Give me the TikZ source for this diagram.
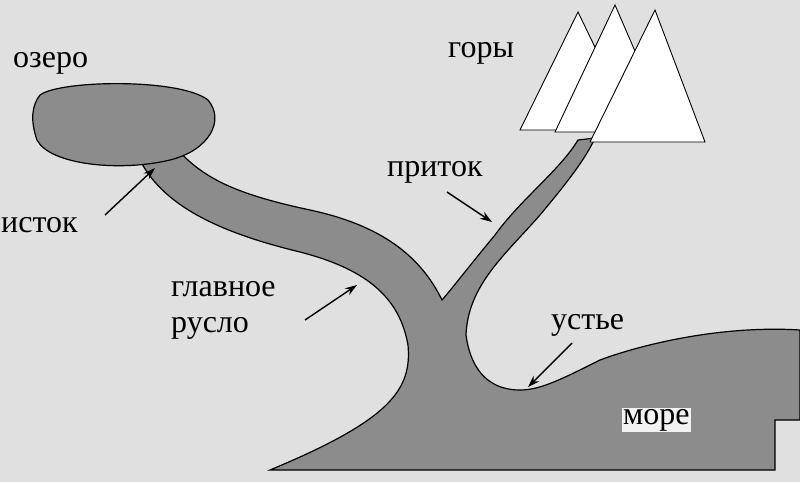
\documentclass[tikz,border=0pt]{standalone}
\usepackage{fontspec}
\setmainfont{Liberation Serif}
\usetikzlibrary{arrows.meta}
\begin{document}
\begin{tikzpicture}[x=1pt,y=-1pt,
 lab/.style={font=\fontsize{32}{36}\selectfont,inner sep=1pt},
 water/.style={fill=black!45,draw=black,line width=1.2pt},
 arr/.style={-{Stealth[length=12pt,width=8pt]},line width=1.4pt}]
\useasboundingbox (0,0) rectangle (800,482);
\fill[black!12] (0,0) rectangle (800,482);
% river and sea
\draw[water] (140,160)
  .. controls (165,210) and (230,235) .. (300,252)
  .. controls (370,270) and (400,300) .. (408,345)
  .. controls (412,390) and (390,420) .. (270,470)
  -- (775,470) -- (775,420) -- (800,420) -- (800,330)
  .. controls (720,325) and (640,345) .. (600,360)
  .. controls (560,380) and (540,390) .. (520,390)
  .. controls (485,390) and (470,365) .. (466,335)
  .. controls (468,285) and (505,255) .. (540,215)
  .. controls (565,185) and (585,160) .. (595,138)
  -- (578,140)
  .. controls (560,170) and (520,200) .. (495,235)
  .. controls (470,265) and (455,285) .. (442,300)
  .. controls (420,255) and (380,225) .. (310,210)
  .. controls (240,195) and (205,180) .. (178,150) -- cycle;
% lake
\draw[water] (40,95) .. controls (60,80) and (180,78) .. (208,100) .. controls (225,120) and (210,150) .. (170,160) .. controls (120,172) and (50,165) .. (37,140) .. controls (30,120) and (32,105) .. (40,95) -- cycle;
% mountains
\tikzset{mnt/.style={fill=white,draw=black,line width=0.9pt}}
\draw[mnt] (520,130) -- (578,12) -- (635,130) -- cycle;
\draw[mnt] (555,132) -- (615,5) -- (670,132) -- cycle;
\draw[mnt] (590,142) -- (655,10) -- (705,142) -- cycle;
% labels
\node[lab,anchor=west] (oz) at (12,63) {озеро};
\node[lab,anchor=west] (go) at (447,53) {горы};
\node[lab,anchor=west] (is) at (0,225) {исток};
\node[lab,anchor=west] (pr) at (386,172) {приток};
\node[lab,anchor=west,align=left] (gl) at (170,310) {главное\\русло};
\node[lab,anchor=west] (us) at (550,325) {устье};
\node[lab,anchor=west,fill=black!5] (mo) at (622,420) {море};
\coordinate (t1) at (155,168);
\coordinate (t2) at (492,222);
\coordinate (t3) at (357,285);
\coordinate (t4) at (528,387);
\draw[arr] (105,215) -- (t1);
\draw[arr] (447,192) -- (t2);
\draw[arr] (305,320) -- (t3);
\draw[arr] (572,343) -- (t4);
\end{tikzpicture}
\end{document}
